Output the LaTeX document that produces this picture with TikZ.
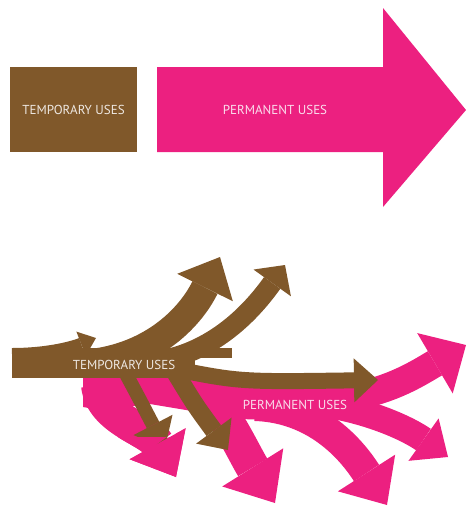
\documentclass[tikz,border=0pt]{standalone}
\usepackage{fontspec}
\setmainfont{PT Sans}
\usetikzlibrary{arrows.meta}
\definecolor{tempbrown}{RGB}{128,88,42}
\definecolor{permpink}{RGB}{236,32,128}
\definecolor{tempink}{RGB}{238,232,226}
\definecolor{permink}{RGB}{250,222,236}

\begin{document}
\begin{tikzpicture}[
    x=1pt, y=-1pt,
    usetext/.style={font=\fontsize{13}{15}\selectfont, inner sep=0pt},
    tempflow/.style n args={3}{draw=tempbrown, line width=#1, -{Triangle[length=#2, width=#3, line width=0pt]}},
    permflow/.style n args={3}{draw=permpink, line width=#1, -{Triangle[length=#2, width=#3, line width=0pt]}}
]
    \useasboundingbox (0,0) rectangle (466,507);

    % before: temporary block, permanent arrow
    \node[fill=tempbrown, minimum width=127pt, minimum height=85pt, usetext, text=tempink] (tempblock) at (73.5,109.5) {TEMPORARY USES};
    \fill[permpink] (157,67) -- (383,67) -- (383,8) -- (466,110) -- (383,207) -- (383,152) -- (157,152) -- cycle;
    \node[usetext, text=permink] (permblock) at (275,110) {PERMANENT USES};

    % after: pink mass and its branches
    \fill[permpink] (83,376) -- (372,376) -- (372,404) .. controls (320,422) and (270,420) .. (240,419) -- (150,404) -- (100,410) -- (83,407) -- cycle;
    \draw[permflow={34pt}{38pt}{64pt}] (98,385) .. controls (102,420) and (150,430) .. (176,477);
    \draw[permflow={34pt}{42pt}{72pt}] (210,398) .. controls (228,418) and (245,455) .. (275,503);
    \draw[permflow={30pt}{38pt}{68pt}] (255,406) .. controls (320,408) and (355,455) .. (387,505);
    \draw[permflow={26pt}{30pt}{52pt}] (315,403) .. controls (370,410) and (410,430) .. (448,457);
    \draw[permflow={28pt}{36pt}{70pt}] (320,400) .. controls (380,398) and (415,375) .. (466,345);

    % brown trunk and branches
    \fill[tempbrown] (12,348) rectangle (195,378);
    \fill[tempbrown] (150,348) rectangle (232,358);
    \draw[tempflow={12pt}{16pt}{26pt}] (12,354) .. controls (45,354) and (70,348) .. (96,338);
    \draw[tempflow={28pt}{34pt}{62pt}] (80,364) .. controls (150,360) and (190,318) .. (220,257);
    \draw[tempflow={20pt}{22pt}{46pt}] (150,362) .. controls (215,355) and (255,307) .. (285,265);
    \draw[tempflow={16pt}{24pt}{44pt}] (170,368) .. controls (240,382) .. (378,380);
    \draw[tempflow={14pt}{26pt}{44pt}] (125,372) .. controls (140,400) .. (165,448);
    \draw[tempflow={18pt}{24pt}{44pt}] (175,372) .. controls (195,405) .. (228,450);

    % first pink head lies over the brown
    \begin{scope}
        \clip (110,437) -- (172,437) -- (200,415) -- (210,500) -- (110,500) -- cycle;
        \draw[permflow={34pt}{38pt}{64pt}] (98,385) .. controls (102,420) and (150,430) .. (176,477);
    \end{scope}

    \node[usetext, text=tempink] (templabel) at (124,365) {TEMPORARY USES};
    \node[usetext, text=permink] (permlabel) at (295,405) {PERMANENT USES};
\end{tikzpicture}
\end{document}
